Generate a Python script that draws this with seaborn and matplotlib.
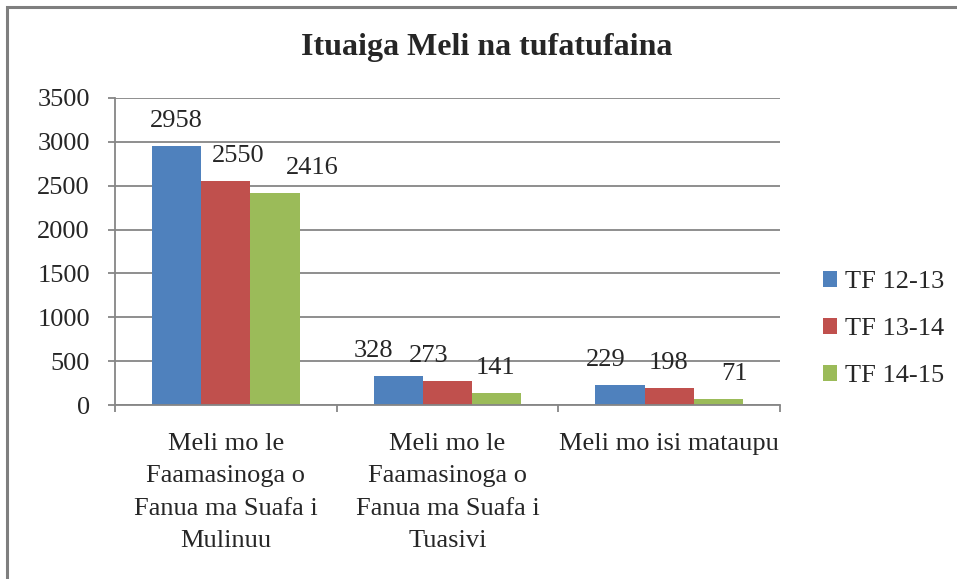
import pandas as pd
import matplotlib
matplotlib.use("Agg")
import matplotlib.pyplot as plt
from matplotlib.patches import Rectangle
import seaborn as sns

# data
categories = [
    "Meli mo le\nFaamasinoga o\nFanua ma Suafa i\nMulinuu",
    "Meli mo le\nFaamasinoga o\nFanua ma Suafa i\nTuasivi",
    "Meli mo isi mataupu",
]
series = ["TF 12-13", "TF 13-14", "TF 14-15"]
tf_12_13 = [2958, 328, 229]
tf_13_14 = [2550, 273, 198]
tf_14_15 = [2416, 141, 71]

colors = ["#4F81BD", "#C0504D", "#9BBB59"]
# horizontal nudges (px) of data labels, as Excel placed them
label_dx = [[0, -25, -14], [12, -19, -1], [37, -1, 16]]

rows = []
for name, vals in zip(series, [tf_12_13, tf_13_14, tf_14_15]):
    for cat, v in zip(categories, vals):
        rows.append({"cat": cat, "series": name, "value": v})
df = pd.DataFrame(rows)

sns.set_style("white")
plt.rcParams["font.family"] = ["Liberation Serif", "DejaVu Serif"]
grid_col = "#868686"
fs = 19

fig = plt.figure(figsize=(9.57, 5.79), dpi=100)
fig.patches.append(Rectangle((7 / 957, -0.1), 1.2, 1 - 7 / 579 + 0.1,
                             transform=fig.transFigure, fill=False,
                             edgecolor="#7f7f7f", linewidth=2.2))
ax = fig.add_axes([115 / 957, 1 - 405 / 579, 665 / 957, 307 / 579])

sns.barplot(data=df, x="cat", y="value", hue="series", palette=colors,
            width=0.667, gap=0, saturation=1, ax=ax, legend=True,
            edgecolor="none")

ax.set_ylim(0, 3500)
ax.set_xlim(-0.5, 2.5)
ax.set_yticks(range(0, 3501, 500))
ax.yaxis.grid(True, color=grid_col, linewidth=1.3)
ax.set_axisbelow(True)
for s in ["top", "right"]:
    ax.spines[s].set_visible(False)
for s in ["left", "bottom"]:
    ax.spines[s].set_color(grid_col)
    ax.spines[s].set_linewidth(1.3)

ax.set_xlabel("")
ax.set_ylabel("")
ax.tick_params(axis="y", direction="out", length=5, width=1.3, color=grid_col,
               labelsize=fs, pad=13, left=True)
ax.tick_params(axis="x", which="major", length=0, labelsize=fs, pad=20)
ax.set_xticks([-0.5, 0.5, 1.5, 2.5], minor=True)
ax.tick_params(axis="x", which="minor", direction="out", length=5, width=1.3,
               color=grid_col, bottom=True)
for t in ax.get_xticklabels():
    t.set_linespacing(1.62)

for i, cont in enumerate(ax.containers):
    for j, bar in enumerate(cont):
        h = bar.get_height()
        ax.annotate(f"{int(h)}", (bar.get_x() + bar.get_width() / 2, h),
                    xytext=(label_dx[i][j] * 0.72, 18), textcoords="offset points",
                    ha="center", va="center", fontsize=fs)

handles, labels = ax.get_legend_handles_labels()
ax.get_legend().remove()
fig.legend(handles, labels, loc="center left",
           bbox_to_anchor=(799 / 957, 1 - 329 / 579), frameon=False,
           fontsize=fs, handlelength=0.55, handleheight=0.55, handletextpad=0.3,
           labelspacing=0.93)

fig.text(487 / 957, 1 - 48 / 579, "Ituaiga Meli na tufatufaina",
         ha="center", va="center", fontsize=23, fontweight="bold")

fig.savefig("out.png", dpi=100)
